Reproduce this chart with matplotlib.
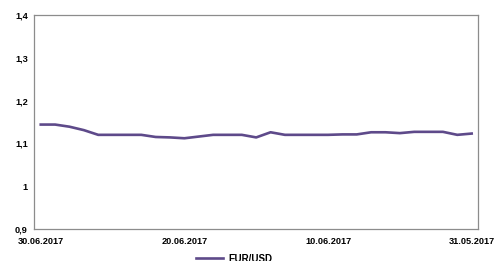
import matplotlib
matplotlib.use("Agg")
import matplotlib.pyplot as plt

dates = ["30.06.2017", "29.06.2017", "28.06.2017", "27.06.2017", "26.06.2017", "25.06.2017",
         "24.06.2017", "23.06.2017", "22.06.2017", "21.06.2017", "20.06.2017", "19.06.2017",
         "18.06.2017", "17.06.2017", "16.06.2017", "15.06.2017", "14.06.2017", "13.06.2017",
         "12.06.2017", "11.06.2017", "10.06.2017", "09.06.2017", "08.06.2017", "07.06.2017",
         "06.06.2017", "05.06.2017", "04.06.2017", "03.06.2017", "02.06.2017", "01.06.2017",
         "31.05.2017"]
eurusd = [1.144, 1.144, 1.139, 1.131, 1.120, 1.120, 1.120, 1.120, 1.115, 1.114, 1.112,
          1.116, 1.120, 1.120, 1.120, 1.114, 1.126, 1.120, 1.120, 1.120, 1.120, 1.121,
          1.121, 1.126, 1.126, 1.124, 1.127, 1.127, 1.127, 1.120, 1.123]
yticks = [0.9, 1.0, 1.1, 1.2, 1.3, 1.4]
ytick_labels = ["0,9", "1", "1,1", "1,2", "1,3", "1,4"]
xtick_idx = [0, 10, 20, 30]

fig = plt.figure(figsize=(4.95, 2.61), dpi=100)
ax = fig.add_axes([34/495, 1-229/261, (477.7-34)/495, (229-15)/261])
x = list(range(len(dates)))
line, = ax.plot(x, eurusd, color="#5e4a8a", lw=1.9, solid_joinstyle="round", label="EUR/USD")
ax.set_ylim(0.9, 1.4)
ax.set_xlim(-0.47, 30.42)
ax.set_yticks(yticks)
ax.set_yticklabels(ytick_labels)
ax.set_xticks(xtick_idx)
ax.set_xticklabels([dates[i] for i in xtick_idx])
for lab in ax.get_xticklabels() + ax.get_yticklabels():
    lab.set_fontfamily("Liberation Sans")
    lab.set_fontweight("bold")
    lab.set_fontsize(6.6)
ax.tick_params(axis="both", length=0)
ax.tick_params(axis="y", pad=4.5)
ax.tick_params(axis="x", pad=5.5)
for s in ax.spines.values():
    s.set_color("#8c8c8c")
    s.set_linewidth(0.9)

fig.legend(handles=[line], loc="center left", bbox_to_anchor=(196/495, 1-258.5/261),
           frameon=False, prop={"family": "Liberation Sans", "weight": "bold", "size": 7},
           handlelength=2.8, handletextpad=0.5, borderpad=0, borderaxespad=0)
fig.savefig("out.png", dpi=100)
